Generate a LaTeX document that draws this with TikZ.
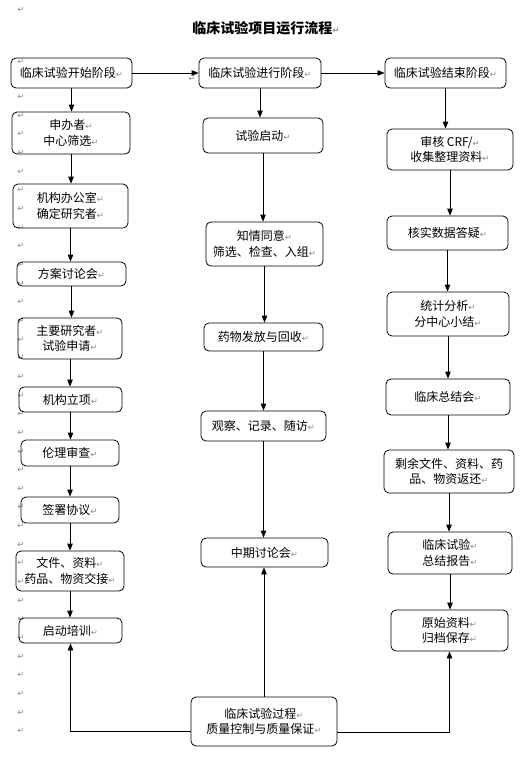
\documentclass[tikz,border=0pt]{standalone}
\usepackage{fontspec}
\setmainfont{Noto Sans CJK SC}
\newfontfamily\djv{DejaVu Sans}
\usetikzlibrary{arrows.meta,calc}
\newcommand{\pmk}{{\djv\fontsize{8.5}{8.5}\selectfont\textcolor{black!45}{↵}}}
\begin{document}
\begin{tikzpicture}[x=1pt,y=-1pt,
  box/.style={draw, rounded corners=5pt, line width=0.8pt, inner sep=0pt, align=center,
    font=\fontsize{12}{15.5}\selectfont},
  arr/.style={line width=0.8pt, -{Triangle[length=7pt,width=5.5pt]}},
  pm/.style={inner sep=0pt}
]
\useasboundingbox (0,0) rectangle (527,771);

% paragraph marks in the margin
\node[pm] (pmA) at (21,10) {\pmk};
\node[pm] (pmB) at (21,62) {\pmk};
\node[pm] (pmC) at (192,79) {\pmk};
\foreach \k in {0,...,34} \node[pm] (pm\k) at (21,{97+18.65*\k}) {\pmk};

% title
\node (title) at (266,28) {\fontsize{14}{14}\selectfont\bfseries 临床试验项目运行流程\pmk};

% top row
\node[box, minimum width=121pt, minimum height=30pt] (A) at (71.5,73) {临床试验开始阶段\pmk};
\node[box, minimum width=122pt, minimum height=30pt] (B) at (260,73) {临床试验进行阶段\pmk};
\node[box, minimum width=121pt, minimum height=30pt] (C) at (445.5,73) {临床试验结束阶段\pmk};

% left column
\node[box, minimum width=118pt, minimum height=42pt] (L1) at (71,133) {申办者\pmk\\中心筛选\pmk};
\node[box, minimum width=115pt, minimum height=44pt] (L2) at (70.5,206) {机构办公室\pmk\\确定研究者\pmk};
\node[box, minimum width=109pt, minimum height=24pt] (L3) at (71.5,274) {方案讨论会\pmk};
\node[box, minimum width=104pt, minimum height=41pt] (L4) at (70,338.5) {主要研究者\pmk\\试验申请\pmk};
\node[box, minimum width=103pt, minimum height=25pt] (L5) at (70.5,399.5) {机构立项\pmk};
\node[box, minimum width=98pt, minimum height=26pt] (L6) at (70,453) {伦理审查\pmk};
\node[box, minimum width=98pt, minimum height=26pt] (L7) at (70,510) {签署协议\pmk};
\node[box, minimum width=108pt, minimum height=40pt] (L8) at (70,571) {文件、资料\pmk\\药品、物资交接\pmk};
\node[box, minimum width=103pt, minimum height=25pt] (L9) at (70.5,630.5) {启动培训\pmk};

% middle column
\node[box, minimum width=120pt, minimum height=35pt] (M1) at (263,135.5) {试验启动\pmk};
\node[box, minimum width=117pt, minimum height=44pt] (M2) at (264.5,244) {知情同意\pmk\\筛选、检查、入组\pmk};
\node[box, minimum width=119pt, minimum height=28pt] (M3) at (263.5,337) {药物发放与回收\pmk};
\node[box, minimum width=125pt, minimum height=30pt] (M4) at (263.5,426) {观察、记录、随访\pmk};
\node[box, minimum width=127pt, minimum height=29pt] (M5) at (264.5,552.5) {中期讨论会\pmk};

% right column
\node[box, minimum width=126pt, minimum height=41pt] (R1) at (450,149.5) {审核 CRF/\pmk\\收集整理资料\pmk};
\node[box, minimum width=121pt, minimum height=34pt] (R2) at (447.5,233) {核实数据答疑\pmk};
\node[box, minimum width=122pt, minimum height=44pt] (R3) at (448,314) {统计分析\pmk\\分中心小结\pmk};
\node[box, minimum width=124pt, minimum height=36pt] (R4) at (448,397) {临床总结会\pmk};
\node[box, minimum width=130pt, minimum height=43pt] (R5) at (449,471.5) {剩余文件、资料、药\\品、物资返还\pmk};
\node[box, minimum width=124pt, minimum height=42pt] (R6) at (450,553) {临床试验\pmk\\总结报告\pmk};
\node[box, minimum width=117pt, minimum height=41pt] (R7) at (449.5,630.5) {原始资料\pmk\\归档保存\pmk};

% quality box
\node[box, minimum width=146pt, minimum height=49pt] (QC) at (264,721.5) {临床试验过程\pmk\\质量控制与质量保证\pmk};

% connectors
\draw[arr] (A) -- (B);
\draw[arr] (B) -- (C);
\foreach \p/\q in {A/L1,L1/L2,L2/L3,L3/L4,L4/L5,L5/L6,L6/L7,L7/L8,L8/L9,
                   B/M1,M1/M2,M2/M3,M3/M4,M4/M5,
                   C/R1,R1/R2,R2/R3,R3/R4,R4/R5,R5/R6,R6/R7}
  \draw[arr] (\p.south) -- (\p.south |- \q.north);
\draw[arr] (QC.north) -- (QC.north |- M5.south);
\draw[arr] ($(QC.west)+(0,9.5)$) -| (L9.south);
\draw[arr] ($(QC.east)+(0,10.5)$) -| (R7.south);
\end{tikzpicture}
\end{document}
